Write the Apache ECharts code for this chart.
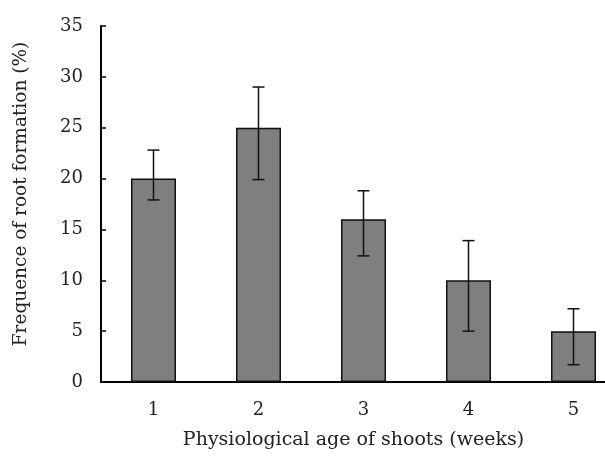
<!DOCTYPE html>
<html><head><meta charset="utf-8">
<script src="https://cdn.jsdelivr.net/npm/echarts@6/dist/echarts.min.js"></script>
<style>html,body{margin:0;padding:0;background:#fff}#c{width:605px;height:456px}</style>
</head><body><div id="c"></div>
<script>
const categories = ['1','2','3','4','5'];
const values = [20, 25, 16, 10, 5];
const errLow = [17.9, 19.9, 12.4, 5.0, 1.7];
const errHigh = [22.8, 29.0, 18.8, 13.9, 7.2];
const yTicks = [0,5,10,15,20,25,30,35];

const FONT = 'DejaVu Serif';
const chart = echarts.init(document.getElementById('c'));
chart.setOption({
  animation: false,
  grid: {left: 101, top: 26, height: 356, width: 525, outerBoundsMode: 'none', containLabel: false},
  xAxis: {
    type: 'category', data: categories,
    axisLine: {lineStyle: {color: '#000', width: 2}},
    axisTick: {show: false},
    axisLabel: {color: '#222', fontFamily: FONT, fontSize: 18, margin: 19},
    name: 'Physiological age of shoots (weeks)', nameLocation: 'middle', nameGap: 49,
    nameTextStyle: {color: '#222', fontFamily: FONT, fontSize: 19, padding: [0, 20, 0, 0]}
  },
  yAxis: {
    type: 'value', min: yTicks[0], max: yTicks[yTicks.length-1], interval: 5,
    axisLine: {show: true, lineStyle: {color: '#000', width: 2}},
    axisTick: {show: true, inside: true, length: 5, lineStyle: {color: '#000', width: 1.5}},
    splitLine: {show: false},
    axisLabel: {color: '#222', fontFamily: FONT, fontSize: 18, margin: 18},
    name: 'Frequence of root formation (%)', nameLocation: 'middle', nameGap: 70,
    nameTextStyle: {color: '#222', fontFamily: FONT, fontSize: 18.5, padding: [0, 0, 0, 20]}
  },
  series: [
    {type: 'bar', data: values, barWidth: 45,
     itemStyle: {color: '#7f7f7f', borderColor: '#111', borderWidth: 1.5}},
    {type: 'custom', data: categories.map((c,i)=>[i, errLow[i], errHigh[i]]),
     renderItem: function(params, api){
       const lo = api.coord([api.value(0), api.value(1)]);
       const hi = api.coord([api.value(0), api.value(2)]);
       const w = 6;
       const st = {stroke: '#111', lineWidth: 1.5};
       return {type: 'group', children: [
         {type:'line', shape:{x1:lo[0],y1:lo[1],x2:hi[0],y2:hi[1]}, style: st},
         {type:'line', shape:{x1:hi[0]-w,y1:hi[1],x2:hi[0]+w,y2:hi[1]}, style: st},
         {type:'line', shape:{x1:lo[0]-w,y1:lo[1],x2:lo[0]+w,y2:lo[1]}, style: st}
       ]};
     }, z: 5}
  ]
});
</script></body></html>
